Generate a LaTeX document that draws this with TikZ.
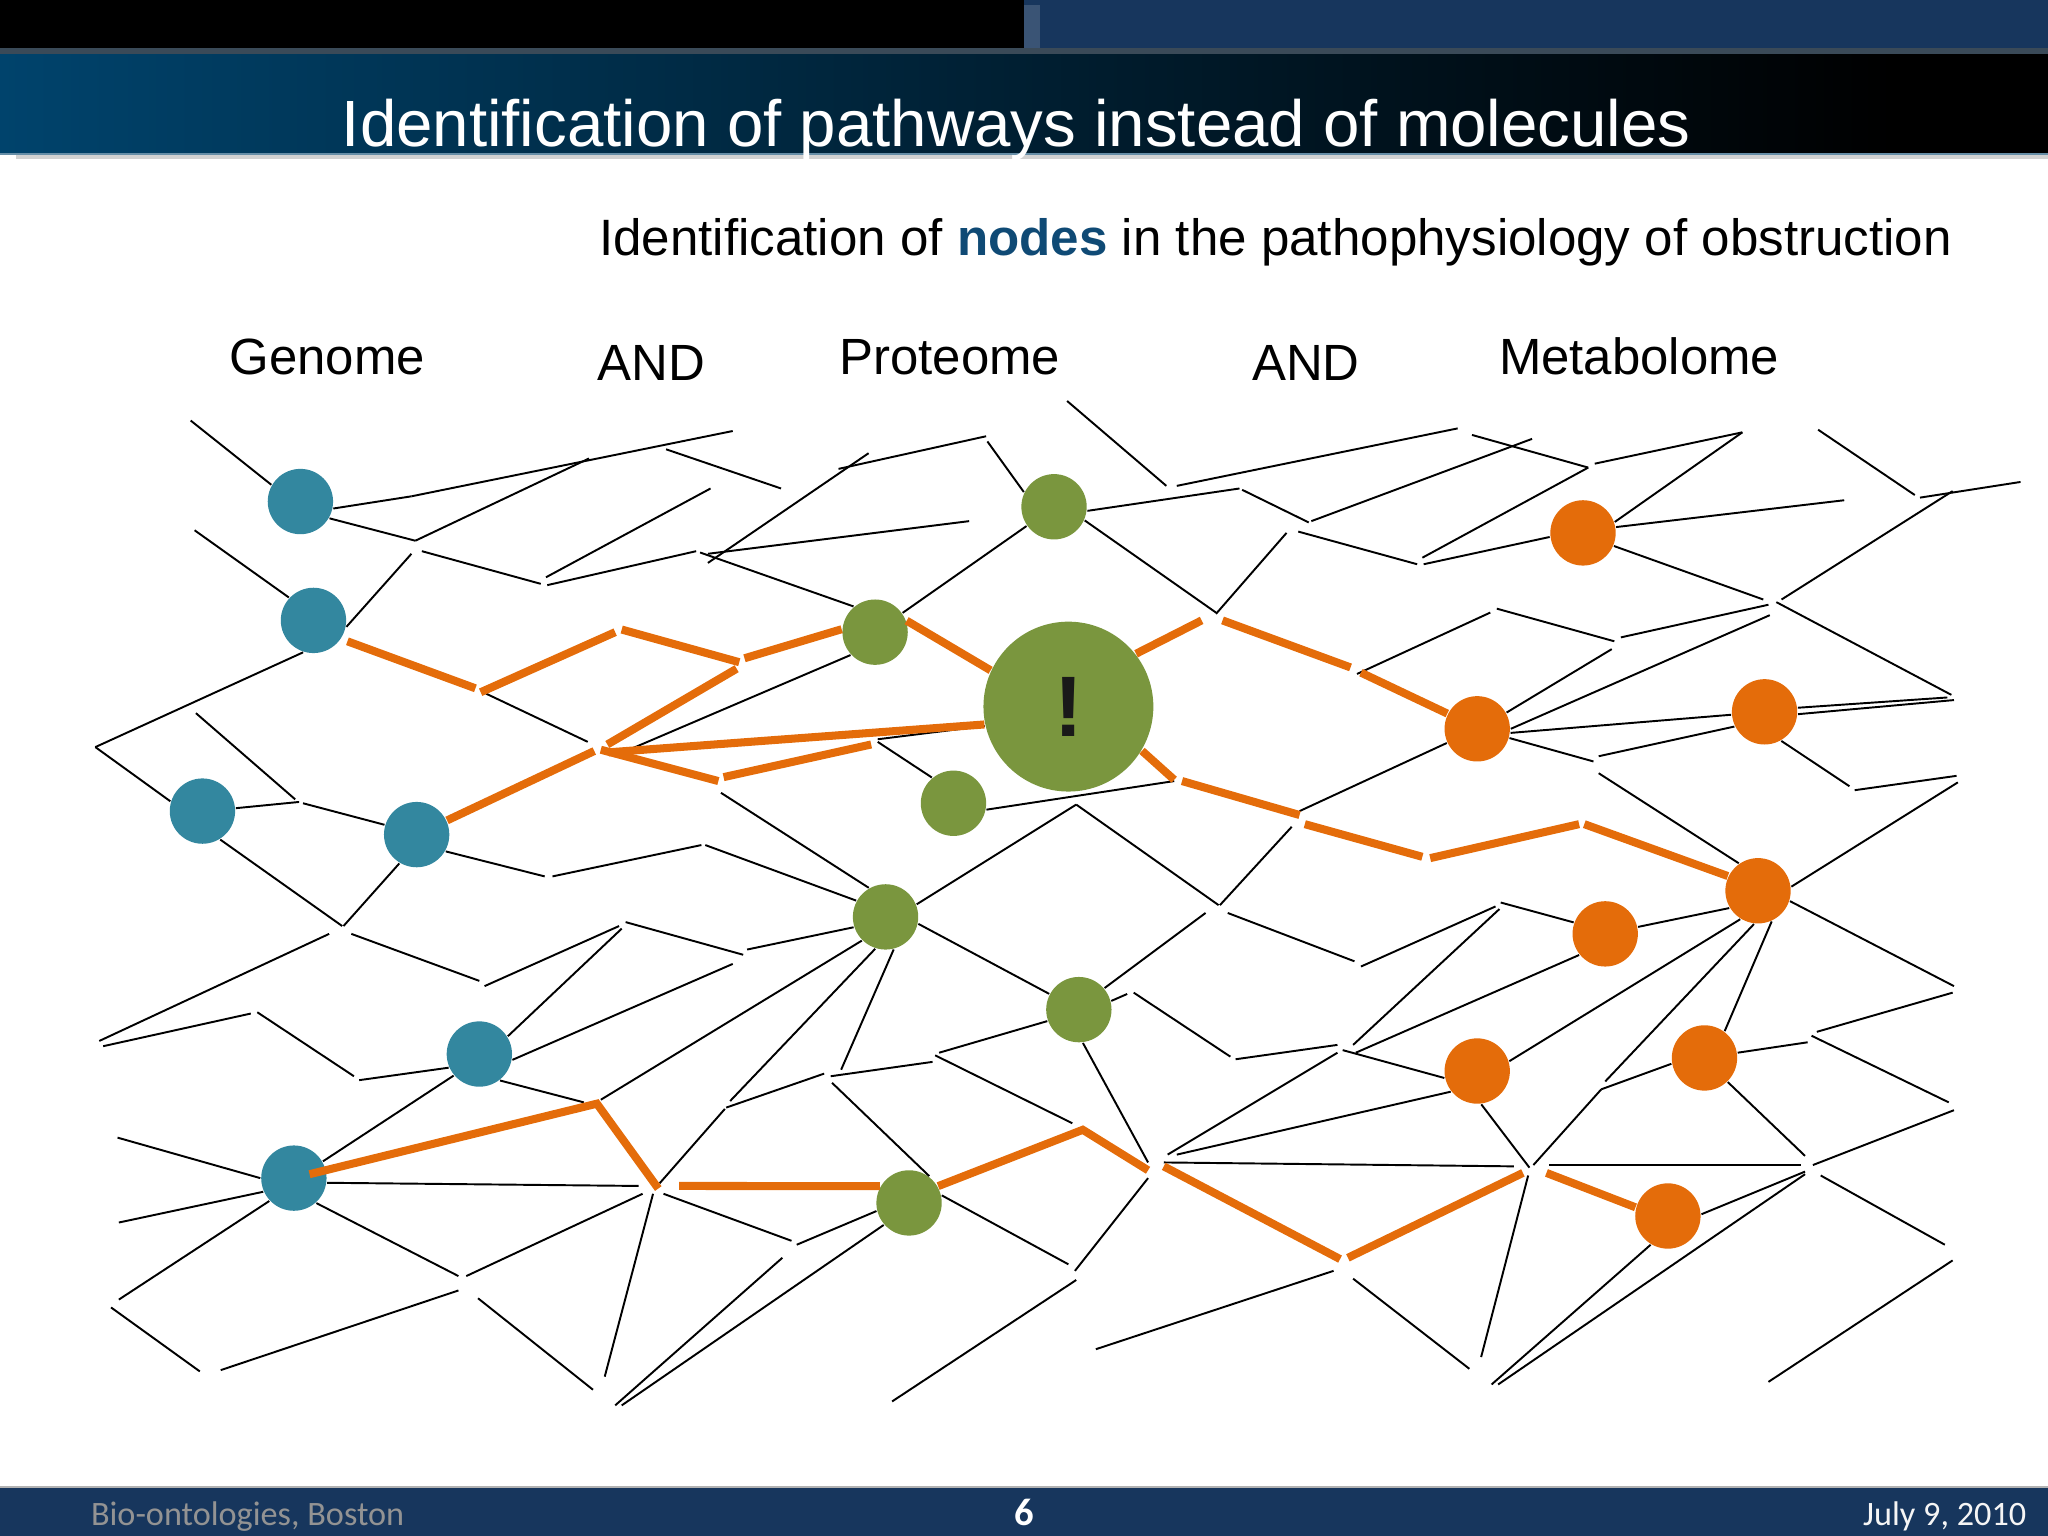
\documentclass[tikz,border=0pt]{standalone}
\usepackage{fontspec}
\setmainfont{Liberation Sans}
\newfontfamily\footfont{Carlito}
\definecolor{navyband}{HTML}{17365D}
\definecolor{titleblue}{HTML}{00436C}
\definecolor{nodeword}{HTML}{0F4A75}
\definecolor{stripcol}{HTML}{3A4A58}
\definecolor{genomedot}{HTML}{33879F}
\definecolor{proteindot}{HTML}{7A963E}
\definecolor{metabdot}{HTML}{E46C0A}
\definecolor{pathcol}{HTML}{E46C0A}

\begin{document}
\begin{tikzpicture}[x=0.01cm,y=-0.01cm]
    \tikzset{dot/.style = {shape=circle,inner sep=0pt,minimum size=0.5cm}}
    \tikzset{link/.style = {line width=0.42pt,black}}
    \tikzset{pathway/.style = {line width=1.75pt,pathcol,line join=miter}}
    \tikzset{head/.style = {anchor=base west,inner sep=0pt,font=\fontsize{11.09}{13}\selectfont}}
    \tikzset{foot/.style = {inner sep=0pt,font=\footfont\fontsize{7.45}{8}\selectfont}}
    \useasboundingbox (0,0) rectangle (1568,1176);
    % slide frame
    \fill[black] (0,0) rectangle (784,37);
    \fill[navyband] (784,0) rectangle (1568,37);
    \fill[navyband!85!white] (784,4) rectangle (796,37);
    \fill[black] (1450,40) rectangle (1568,117);
    \shade[left color=titleblue,right color=black] (0,40) rectangle (1450,117);
    \fill[stripcol] (0,37) rectangle (1568,41);
    \fill[titleblue!60!white] (0,117) rectangle (1568,119);
    \fill[gray!35] (12,119) rectangle (1568,122);
    \fill[navyband] (0,1139) rectangle (1568,1176);
    \fill[gray!60] (0,1138) rectangle (1568,1139);
    % texts
    \node[anchor=base west,inner sep=0pt,text=white,font=\fontsize{14.24}{16}\selectfont] (title) at (261,112) {Identification of pathways instead of molecules};
    \node[head,font=\fontsize{11.13}{13}\selectfont] (subtitle) at (458,196) {Identification of {\bfseries\color{nodeword}nodes} in the pathophysiology of obstruction};
    \node[head] (genome) at (175,287) {Genome};
    \node[head] (and1) at (457,291) {AND};
    \node[head] (proteome) at (642,287) {Proteome};
    \node[head] (and2) at (958,291) {AND};
    \node[head] (metabolome) at (1147,287) {Metabolome};
    \node[foot,anchor=base west,text=gray!85!white] (place) at (69,1168) {Bio-ontologies, Boston};
    \node[foot,anchor=base,text=white,font=\footfont\bfseries\fontsize{8.4}{9}\selectfont] (page) at (784,1168) {6};
    \node[foot,anchor=base east,text=white!92!gray] (date) at (1552,1168) {July 9, 2010};
    % dots
    \foreach \name/\x/\y in {B1/230/384,B2/240/475,B3/155/621,B4/319/639,B5/367/807,B6/225/902}
        \node[dot,fill=genomedot] (\name) at (\x,\y) {};
    \foreach \name/\x/\y in {G1/807/388,G2/670/484,G3/730/615,G4/678/702,G5/826/773,G6/696/921}
        \node[dot,fill=proteindot] (\name) at (\x,\y) {};
    \foreach \name/\x/\y in {O1/1212/408,O2/1131/558,O3/1351/545,O4/1346/682,O5/1229/715,O6/1131/820,O7/1305/810,O8/1277/931}
        \node[dot,fill=metabdot] (\name) at (\x,\y) {};
    \node[dot,fill=proteindot,minimum size=1.3cm,text=black!90,font=\bfseries\fontsize{18.7}{20}\selectfont] (big) at (818,541) {\raisebox{-0.85pt}{!}};
    % net ends
    \foreach \name/\x/\y in {
        n1/146/322,n2/315/380,n3/561/330,n4/318/414,n5/451/351,n6/510/344,n7/598/374,n8/544/374,n9/418/442,
        n10/323/422,n11/414/447,n12/419/448,n13/533/422,n14/536/423,n15/542/431,n16/665/347,n17/542/424,n18/742/399,
        n19/642/359,n20/755/334,n21/756/338,n22/149/406,n23/315/424,n24/73/572,n25/150/546,n26/226/612,n27/229/614,
        n28/232/615,n29/262/709,n30/263/709,n31/417/671,n32/423/671,n33/537/647,n34/540/647,n35/552/607,n36/372/531,
        n37/450/568,n38/470/579,n39/672/566,n40/672/568,n42/899/598,n43/949/374,n44/951/375,n45/1002/400,n46/1004/399,
        n47/1173/336,n48/931/469,n49/817/307,n50/893/372,n51/901/372,n52/1116/328,n53/1127/333,n54/1216/358,n55/1221/355,
        n56/1334/331,n57/1089/427,n58/1090/432,n59/994/407,n60/1085/432,n61/985/408,n62/931/470,n63/1412/383,n64/1350/459,
        n65/1392/329,n66/1466/379,n67/1470/381,n68/1547/369,n69/1495/376,n70/1364/459,n71/1360/461,n72/1494/532,n73/1354/463,
        n74/1241/488,n75/1236/491,n76/1146/466,n77/1141/469,n78/1039/516,n79/1234/497,n80/1355/471,n81/1491/534,n82/1496/536,
        n83/1224/579,n84/1220/583,n85/995/621,n86/1416/602,n87/1420/605,n88/1498/594,n89/1499/599,n90/1224/592,n91/824/616,
        n92/933/693,n93/989/633,n94/934/693,n95/923/699,n96/940/699,n97/1037/736,n98/1042/740,n99/1145/694,n100/1149/691,
        n101/1148/696,n102/1036/800,n103/1038/806,n104/1024/800,n105/946/811,n106/942/809,n107/868/760,n108/863/761,n109/719/806,
        n110/879/890,n111/1024/806,n112/894/884,n113/901/884,n114/1028/804,n115/891/890,n116/1159/893,n117/1171/894,n118/1174/892,
        n119/1226/834,n120/1229/828,n121/1384/798,n122/1387/793,n123/1492/844,n124/1391/790,n125/1495/760,n126/1496/755,n127/1382/885,
        n128/1388/892,n129/1496/850,n130/1186/892,n131/1379/892,n132/1382/897,n133/1382/899,n134/1147/1060,n135/1142/1060,n136/1170/900,
        n137/1134/1039,n138/1036/979,n139/1125/1048,n140/1021/973,n141/839/1033,n142/1394/900,n143/1489/953,n144/1495/965,n145/1354/1058,
        n146/879/902,n147/823/973,n148/824/980,n149/683/1073,n150/252/715,n151/76/797,n152/79/801,n153/192/776,n154/197/775,
        n155/271/824,n156/275/827,n157/269/715,n158/367/751,n159/371/755,n160/474/709,n161/479/706,n162/569/731,n163/572/727,
        n164/476/711,n165/561/738,n166/447/844,n167/460/842,n168/559/843,n169/644/819,n170/556/848,n171/631/822,n172/636/824,
        n173/714/813,n174/555/849,n175/505/906,n176/637/829,n177/716/808,n178/821/860,n180/90/871,n181/91/936,n182/91/995,
        n183/85/1001,n184/153/1050,n185/169/1049,n186/351/988,n187/366/994,n188/454/1064,n189/357/977,n190/492/914,n191/351/977,
        n192/489/908,n193/500/914,n194/463/1054,n195/508/914,n196/606/950,n197/610/953,n198/599/963,n199/471/1076,n200/476/1076,
        n201/818/968}
        \coordinate (\name) at (\x,\y);
    % edges
    \foreach \s/\t in {
        n1/B1.150,B1.-12/n2,n2/n3,B1.-30/n4,n4/n5,n6/n7,n8/n9,n10/n11,n12/n13,n14/G2.130,n15/n16,n17/n18,n19/n20,n21/G1.154,n22/B2.137,n23/B2.-11,
        B2.252/n24,n24/B3.163,n25/n26,B3.5/n27,n28/B4.163,B3.-58/n29,B4.239/n30,B4.-30/n31,n32/n33,n34/G4.151,n35/G4.120,n36/n37,n38/G2.223,G2/G1,n39/big.193,
        n40/G3.130,G3.-11/n42,G1.-7/n43,n44/n45,n46/n47,G1.-24/n48,n49/n50,n51/n52,n53/n54,n55/n56,n54/n57,n58/O1.187,n59/n60,n61/n62,n56/O1.19,
        O1.10/n63,O1.-23/n64,n65/n66,n67/n68,n69/n70,n71/n72,n73/n74,n75/n76,n77/n78,n79/O2.29,n80/O2.0,O2.-7/O3.185,O3.7/n81,O3.-4/n82,O3.206/n83,
        n84/O2.-16,O2.205/n85,O3.-60/n86,n87/n88,n89/O4.7,n90/O4.125,G4.22/n91,n91/n92,n93/n94,n95/G5.40,n96/n97,n98/n99,n100/O5.160,O5.12/O4.211,n101/n102,
        O5.219/n103,n104/n105,n106/n107,n108/G5.15,G5.200/n109,G4.-12/G5.152,G5.-83/n110,n111/n112,n113/O6.218,n114/O6.192,n115/n116,O6.-83/n117,O6.17/O4.238,n118/n119,
        n120/O4.263,n119/O7.190,O7.53/O4.-66,O7.9/n121,n122/n123,n124/n125,O4.-18/n126,O7.-46/n127,n128/n129,n130/n131,n132/O8.3,n133/n134,O8.239/n135,
        n136/n137,n138/n139,n140/n141,n142/n143,n144/n145,n146/n147,n148/n149,n150/n151,n152/n153,n154/n155,n156/B5.204,n157/n158,
        n159/n160,n161/n162,n163/G4.198,n164/B5.32,n165/B5.-10,B5.-52/n166,n167/G4.225,B5.220/B6.30,G4.252/n168,G4.-76/n169,n170/n171,n172/n173,n174/n175,
        n176/G6.53,n177/n178,n180/B6.180,n181/B6.204,B6.223/n182,n183/n184,n185/n186,n187/n188,n189/n190,B6.-48/n191,B6.-8/n192,n193/n194,n195/n196,
        n197/G6.194,n198/n199,G6.221/n200,G6.13/n201}
        \draw[link] (\s) -- (\t);
    % pathways
    \foreach \name/\x/\y in {
        o1/266/491,o2/364/527,o3/368/530,o4/471/484,o5/476/482,o6/566/507,o7/570/504,o8/564/512,o9/465/570,o10/455/575,
        o11/466/576,o12/460/574,o13/550/598,o14/554/595,o15/667/570,o16/920/475,o17/936/475,o18/1034/511,o19/1042/515,
        o20/899/597,o21/905/598,o22/995/624,o23/999/631,o24/1089/656,o25/1095/657,o26/1209/631,o27/1213/631,o28/237/899,
        o29/457/845,o30/504/910,o31/520/908,o32/829/865,o33/879/896,o34/891/893,o35/1026/964,o36/1032/963,o37/1166/898,o38/1184/898}
        \coordinate (\name) at (\x,\y);
    \foreach \s/\t in {
        o1/o2,o3/o4,o5/o6,o7/G2.175,o8/o9,o10/B4.25,o11/big.192,o12/o13,o14/o15,G2.20/big.155,big.38/o16,o17/o18,o19/O2.153,
        big.329/o20,o21/o22,o23/o24,o25/o26,o27/O4.154,o31/G6.150,o34/o35,o36/o37,o38/O8.165}
        \draw[pathway] (\s) -- (\t);
    \draw[pathway] (o28) -- (o29) -- (o30);
    \draw[pathway] (G6.30) -- (o32) -- (o33);
\end{tikzpicture}
\end{document}
